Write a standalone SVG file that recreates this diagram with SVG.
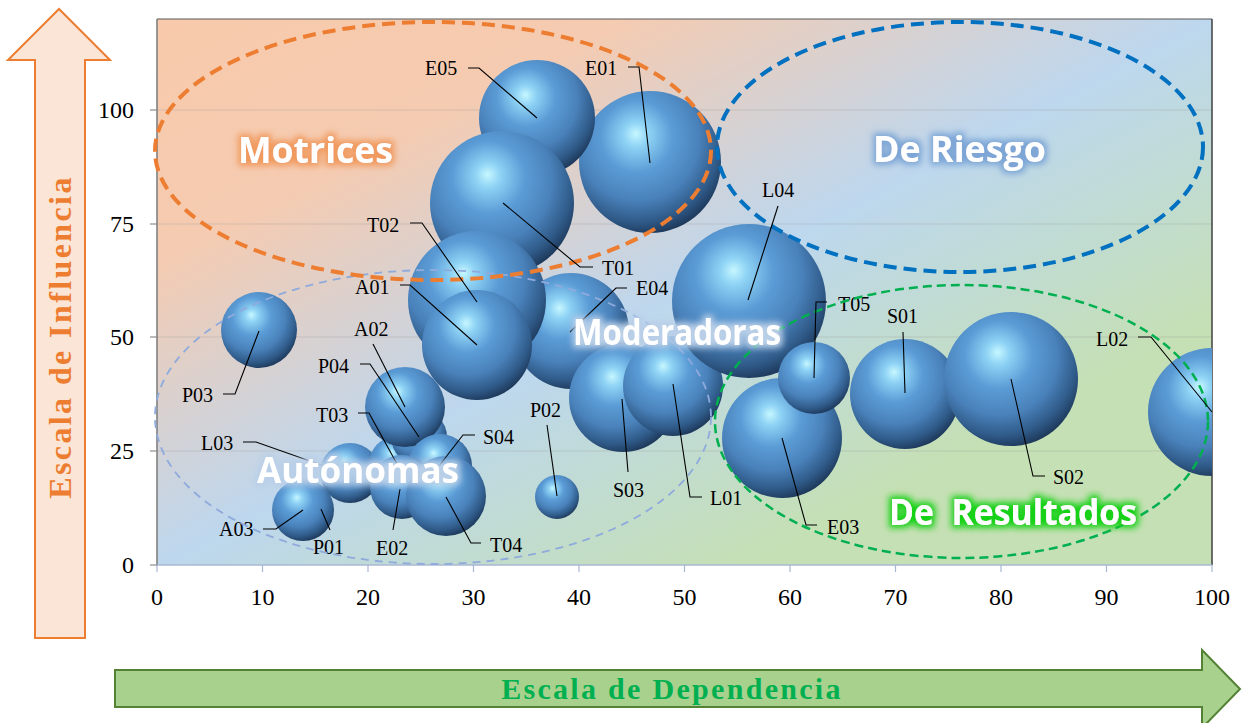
<svg xmlns="http://www.w3.org/2000/svg" width="1242" height="723" viewBox="0 0 1242 723">
<style>
.b{fill:url(#sph)}
.lbl{font-family:"Liberation Serif","Times New Roman",serif;font-size:20px;fill:#000}
.ax{font-family:"Liberation Serif","Times New Roman",serif;font-size:24px;fill:#000}
.ld{fill:none;stroke:#000;stroke-width:1.1}
.zone{font-family:"Open Sans","Noto Sans",sans-serif;font-weight:bold;font-size:36px;fill:#fff}
.grid{stroke:#9a9a9a;stroke-opacity:0.35;stroke-width:1}
.tick{stroke:#8c8c8c;stroke-width:1.2}
.xt{stroke:#a9b8d2;stroke-width:1.2}
</style>
<defs>
<linearGradient id="bg" x1="0" y1="0" x2="1" y2="1">
<stop offset="0" stop-color="#f8caab"/>
<stop offset="0.22" stop-color="#f5cbb1"/>
<stop offset="0.5" stop-color="#bdd7ee"/>
<stop offset="0.78" stop-color="#c5e0b4"/>
<stop offset="1" stop-color="#c5e0b4"/>
</linearGradient>
<radialGradient id="sph" cx="0.42" cy="0.36" r="0.72" fx="0.4" fy="0.3">
<stop offset="0" stop-color="#c6f7ff"/>
<stop offset="0.12" stop-color="#8fd3f5"/>
<stop offset="0.35" stop-color="#5b9cd6"/>
<stop offset="0.6" stop-color="#4a82bb"/>
<stop offset="0.8" stop-color="#2f5a88"/>
<stop offset="0.95" stop-color="#1a3150"/>
<stop offset="1" stop-color="#15283f"/>
</radialGradient>
<clipPath id="plotclip"><rect x="157" y="19" width="1055" height="546"/></clipPath>
<filter id="gO" x="-20%" y="-50%" width="140%" height="200%">
<feMorphology in="SourceAlpha" operator="dilate" radius="2.5" result="d"/>
<feGaussianBlur in="d" stdDeviation="3" result="bl"/>
<feFlood flood-color="#f09a5e"/>
<feComposite in2="bl" operator="in" result="g"/>
<feMerge><feMergeNode in="g"/><feMergeNode in="SourceGraphic"/></feMerge>
</filter>
<filter id="gB" x="-20%" y="-50%" width="140%" height="200%">
<feMorphology in="SourceAlpha" operator="dilate" radius="2.5" result="d"/>
<feGaussianBlur in="d" stdDeviation="3" result="bl"/>
<feFlood flood-color="#7da6d6"/>
<feComposite in2="bl" operator="in" result="g"/>
<feMerge><feMergeNode in="g"/><feMergeNode in="SourceGraphic"/></feMerge>
</filter>
<filter id="gL" x="-20%" y="-50%" width="140%" height="200%">
<feMorphology in="SourceAlpha" operator="dilate" radius="2.5" result="d"/>
<feGaussianBlur in="d" stdDeviation="3" result="bl"/>
<feFlood flood-color="#b9cfe8"/>
<feComposite in2="bl" operator="in" result="g"/>
<feMerge><feMergeNode in="g"/><feMergeNode in="SourceGraphic"/></feMerge>
</filter>
<filter id="gG" x="-20%" y="-50%" width="140%" height="200%">
<feMorphology in="SourceAlpha" operator="dilate" radius="2.5" result="d"/>
<feGaussianBlur in="d" stdDeviation="3" result="bl"/>
<feFlood flood-color="#19d219"/>
<feComposite in2="bl" operator="in" result="g"/>
<feMerge><feMergeNode in="g"/><feMergeNode in="SourceGraphic"/></feMerge>
</filter>
</defs>

<rect width="1242" height="723" fill="#fff"/>

<g id="influence-arrow">
<path d="M35,638 L35,60 L8,60 L59,9 L110,60 L85,60 L85,638 Z" fill="#fbe5d6" stroke="#ed7d31" stroke-width="2"/>
<text transform="translate(71,337) rotate(-90)" text-anchor="middle" font-family="Liberation Serif, Times New Roman, serif" font-weight="bold" font-size="32" letter-spacing="2.4" fill="#ed7d31">Escala de Influencia</text>
</g>
<g id="dependence-arrow">
<path d="M115,670 L1202,670 L1202,650 L1240,689 L1202,728 L1202,707 L115,707 Z" fill="#a9d18e" stroke="#548235" stroke-width="2"/>
<text x="672" y="699" text-anchor="middle" font-family="Liberation Serif, Times New Roman, serif" font-weight="bold" font-size="30" letter-spacing="2.3" fill="#00b050">Escala de Dependencia</text>
</g>

<g id="plot-area">
<rect x="157" y="19" width="1055" height="546" fill="url(#bg)"/>
<line class="grid" x1="157" y1="110" x2="1212" y2="110"/>
<line class="grid" x1="157" y1="224" x2="1212" y2="224"/>
<line class="grid" x1="157" y1="337" x2="1212" y2="337"/>
<line class="grid" x1="157" y1="451" x2="1212" y2="451"/>
<line x1="157" y1="19" x2="1212" y2="19" stroke="#595959" stroke-width="1.2"/>
<line x1="1212" y1="19" x2="1212" y2="565" stroke="#404040" stroke-width="1.5"/>
</g>

<g id="axes">
<line x1="157" y1="19" x2="157" y2="566" stroke="#808080" stroke-width="1.6"/>
<line x1="157" y1="565" x2="1212" y2="565" stroke="#a9b8d2" stroke-width="1.5"/>
<line class="tick" x1="150" y1="110" x2="157" y2="110"/>
<line class="tick" x1="150" y1="224" x2="157" y2="224"/>
<line class="tick" x1="150" y1="337" x2="157" y2="337"/>
<line class="tick" x1="150" y1="451" x2="157" y2="451"/>
<line class="tick" x1="150" y1="565" x2="157" y2="565"/>
<text class="ax" x="134" y="118" text-anchor="end">100</text>
<text class="ax" x="134" y="232" text-anchor="end">75</text>
<text class="ax" x="134" y="345" text-anchor="end">50</text>
<text class="ax" x="134" y="459" text-anchor="end">25</text>
<text class="ax" x="134" y="573" text-anchor="end">0</text>
<line class="xt" x1="157" y1="565" x2="157" y2="572"/>
<line class="xt" x1="262.5" y1="565" x2="262.5" y2="572"/>
<line class="xt" x1="368" y1="565" x2="368" y2="572"/>
<line class="xt" x1="473.5" y1="565" x2="473.5" y2="572"/>
<line class="xt" x1="579" y1="565" x2="579" y2="572"/>
<line class="xt" x1="684.5" y1="565" x2="684.5" y2="572"/>
<line class="xt" x1="790" y1="565" x2="790" y2="572"/>
<line class="xt" x1="895.5" y1="565" x2="895.5" y2="572"/>
<line class="xt" x1="1001" y1="565" x2="1001" y2="572"/>
<line class="xt" x1="1106.5" y1="565" x2="1106.5" y2="572"/>
<line class="xt" x1="1212" y1="565" x2="1212" y2="572"/>
<text class="ax" x="157" y="605" text-anchor="middle">0</text>
<text class="ax" x="262.5" y="605" text-anchor="middle">10</text>
<text class="ax" x="368" y="605" text-anchor="middle">20</text>
<text class="ax" x="473.5" y="605" text-anchor="middle">30</text>
<text class="ax" x="579" y="605" text-anchor="middle">40</text>
<text class="ax" x="684.5" y="605" text-anchor="middle">50</text>
<text class="ax" x="790" y="605" text-anchor="middle">60</text>
<text class="ax" x="895.5" y="605" text-anchor="middle">70</text>
<text class="ax" x="1001" y="605" text-anchor="middle">80</text>
<text class="ax" x="1106.5" y="605" text-anchor="middle">90</text>
<text class="ax" x="1212" y="605" text-anchor="middle">100</text>
</g>

<g id="nodes">
<g id="E01"><circle class="b" cx="650" cy="162" r="71"/><text class="lbl" x="585" y="75">E01</text></g>
<g id="E05"><circle class="b" cx="537" cy="118" r="58"/><text class="lbl" x="425" y="75">E05</text></g>
<g id="T01"><circle class="b" cx="502" cy="203" r="72"/><text class="lbl" x="602" y="275">T01</text></g>
<g id="E04"><circle class="b" cx="571" cy="331" r="58"/><text class="lbl" x="636" y="295">E04</text></g>
<g id="T02"><circle class="b" cx="477" cy="300" r="69"/><text class="lbl" x="367" y="232">T02</text></g>
<g id="A01"><circle class="b" cx="477" cy="345" r="55"/><text class="lbl" x="355" y="294">A01</text></g>
<g id="S03"><circle class="b" cx="623" cy="398" r="54"/><text class="lbl" x="613" y="497">S03</text></g>
<g id="L01"><circle class="b" cx="673" cy="386" r="50"/><text class="lbl" x="710" y="505">L01</text></g>
<g id="L04"><circle class="b" cx="749" cy="301" r="77"/><text class="lbl" x="762" y="197">L04</text></g>
<g id="E03"><circle class="b" cx="782" cy="438" r="60"/><text class="lbl" x="827" y="534">E03</text></g>
<g id="T05"><circle class="b" cx="814" cy="378" r="36"/><text class="lbl" x="838" y="311">T05</text></g>
<g id="S01"><circle class="b" cx="905" cy="394" r="55"/><text class="lbl" x="887" y="323">S01</text></g>
<g id="S02"><circle class="b" cx="1011" cy="379" r="67"/><text class="lbl" x="1053" y="484">S02</text></g>
<g id="L02"><circle class="b" cx="1212" cy="412" r="64" clip-path="url(#plotclip)"/><text class="lbl" x="1096" y="346">L02</text></g>
<g id="P03"><circle class="b" cx="259" cy="330" r="38"/><text class="lbl" x="182" y="402">P03</text></g>
<g id="P02"><circle class="b" cx="557" cy="497" r="22"/><text class="lbl" x="530" y="417">P02</text></g>
<g id="L03"><circle class="b" cx="350" cy="473" r="30"/><text class="lbl" x="201" y="450">L03</text></g>
<g id="T03"><circle class="b" cx="397" cy="464" r="28"/><text class="lbl" x="316" y="422">T03</text></g>
<g id="P04"><circle class="b" cx="419" cy="437" r="28"/><text class="lbl" x="318" y="373">P04</text></g>
<g id="A02"><circle class="b" cx="405" cy="407" r="40"/><text class="lbl" x="354" y="336">A02</text></g>
<g id="S04"><circle class="b" cx="440" cy="466" r="32"/><text class="lbl" x="483" y="444">S04</text></g>
<g id="E02"><circle class="b" cx="402" cy="487" r="32"/><text class="lbl" x="376" y="555">E02</text></g>
<g id="T04"><circle class="b" cx="446" cy="496" r="40"/><text class="lbl" x="490" y="552">T04</text></g>
<g id="A03"><circle class="b" cx="303" cy="510" r="31"/><text class="lbl" x="219" y="536">A03</text></g>
<g id="P01"><text class="lbl" x="313" y="554">P01</text></g>
</g>

<g id="zones" fill="none">
<ellipse cx="433" cy="417" rx="278" ry="147" stroke="#8faadc" stroke-width="1.8" stroke-dasharray="8,6"/>
<ellipse cx="433" cy="151" rx="278" ry="129" stroke="#ed7d31" stroke-width="4" stroke-dasharray="13,7"/>
<ellipse cx="960" cy="147" rx="243" ry="125" stroke="#0070c0" stroke-width="4" stroke-dasharray="13,7"/>
<ellipse cx="961.5" cy="421.5" rx="246.5" ry="136.5" stroke="#00b050" stroke-width="2.5" stroke-dasharray="9,5"/>
</g>

<g id="connectors">
<polyline class="ld" points="468,68 479,68 537,118"/>
<polyline class="ld" points="628,67 639,67 650,163"/>
<polyline class="ld" points="503,203 580,267 593,267"/>
<polyline class="ld" points="627,288 616,288 570,332"/>
<polyline class="ld" points="778,206 748,300"/>
<polyline class="ld" points="410,223 422,223 477,302"/>
<polyline class="ld" points="400,285 410,285 477,345"/>
<polyline class="ld" points="373,344 405,407"/>
<polyline class="ld" points="360,364 370,364 419,437"/>
<polyline class="ld" points="358,413 369,413 397,464"/>
<polyline class="ld" points="243,442 256,442 344,473"/>
<polyline class="ld" points="475,435 463,435 439,466"/>
<polyline class="ld" points="223,394 235,394 259,331"/>
<polyline class="ld" points="263,529 276,529 303,510"/>
<polyline class="ld" points="321,509 330,530"/>
<polyline class="ld" points="400,489 393,530"/>
<polyline class="ld" points="446,497 471,543 481,543"/>
<polyline class="ld" points="547,425 557,496"/>
<polyline class="ld" points="622,399 628,472"/>
<polyline class="ld" points="673,384 690,497 702,497"/>
<polyline class="ld" points="814,378 816,302 827,302"/>
<polyline class="ld" points="782,438 806,525 817,525"/>
<polyline class="ld" points="903,332 905,393"/>
<polyline class="ld" points="1011,379 1033,476 1045,476"/>
<polyline class="ld" points="1138,337 1151,337 1212,412"/>
</g>

<g id="zone-labels">
<text class="zone" x="315.5" y="163" text-anchor="middle" textLength="155" lengthAdjust="spacingAndGlyphs" filter="url(#gO)">Motrices</text>
<text class="zone" x="959.5" y="162" text-anchor="middle" textLength="173" lengthAdjust="spacingAndGlyphs" filter="url(#gB)">De Riesgo</text>
<text class="zone" x="677" y="345" font-size="34" text-anchor="middle" textLength="208" lengthAdjust="spacingAndGlyphs" filter="url(#gL)">Moderadoras</text>
<text class="zone" x="358" y="483" font-size="35" text-anchor="middle" textLength="202" lengthAdjust="spacingAndGlyphs" filter="url(#gL)">Autónomas</text>
<text class="zone" x="1013" y="525" text-anchor="middle" textLength="248" lengthAdjust="spacingAndGlyphs" filter="url(#gG)" xml:space="preserve">De  Resultados</text>
</g>
</svg>
